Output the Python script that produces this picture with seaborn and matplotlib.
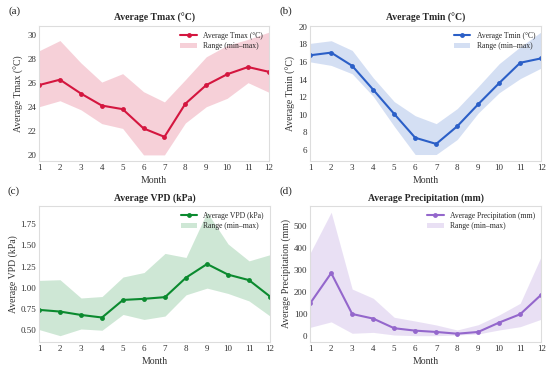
import numpy as np
import pandas as pd
import matplotlib
matplotlib.use("Agg")
import matplotlib.pyplot as plt
import seaborn as sns

months = list(range(1, 13))

tmax_mean = [25.8, 26.25, 25.1, 24.1, 23.8, 22.2, 21.5, 24.25, 25.8, 26.7, 27.3, 26.9]
tmax_hi = [28.65, 29.5, 27.65, 26.05, 26.75, 25.25, 24.4, 26.25, 28.15, 29.1, 29.6, 30.2]
tmax_lo = [24.0, 24.5, 23.75, 22.6, 22.2, 20.0, 20.0, 22.65, 24.0, 24.7, 26.0, 25.2]

tmin_mean = [16.75, 17.05, 15.55, 12.85, 10.1, 7.4, 6.7, 8.7, 11.2, 13.6, 15.9, 16.4]
tmin_hi = [18.1, 18.4, 17.3, 14.2, 11.5, 9.9, 9.0, 10.7, 13.2, 15.8, 17.7, 19.4]
tmin_lo = [16.0, 15.6, 14.65, 12.1, 8.7, 5.5, 5.5, 7.2, 10.2, 12.5, 14.1, 15.3]

vpd_mean = [0.74, 0.72, 0.68, 0.65, 0.857, 0.87, 0.89, 1.12, 1.28, 1.155, 1.09, 0.897]
vpd_hi = [1.087, 1.095, 0.88, 0.897, 1.127, 1.18, 1.405, 1.357, 1.89, 1.516, 1.317, 1.39]
vpd_lo = [0.508, 0.436, 0.515, 0.50, 0.686, 0.627, 0.667, 0.917, 0.996, 0.933, 0.845, 0.667]

prec_mean = [148, 286, 99, 78, 34, 23, 17, 9, 17, 60, 98, 187]
prec_hi = [378, 564, 213, 171, 84, 67, 49, 26, 50, 95, 148, 362]
prec_lo = [38, 63, 11, 15, 3, 0, 0, 3, 8, 26, 41, 75]

sns.set_style("white")
plt.rcParams['font.family'] = ['Liberation Serif', 'DejaVu Serif']
plt.rcParams['axes.edgecolor'] = '#dddddd'
plt.rcParams['axes.linewidth'] = 0.8

panels = [
    ("(a)", "Average Tmax (°C)", "Average Tmax (°C)", "Average Tmax (°C)",
     tmax_mean, tmax_lo, tmax_hi, "#d4163f", None),
    ("(b)", "Average Tmin (°C)", "Average Tmin (°C)", "Average Tmin (°C)",
     tmin_mean, tmin_lo, tmin_hi, "#2b5fc7", list(range(6, 21, 2))),
    ("(c)", "Average VPD (kPa)", "Average VPD (kPa)", "Average VPD (kPa)",
     vpd_mean, vpd_lo, vpd_hi, "#0b8a2f", None),
    ("(d)", "Average Precipitation (mm)", "Average Precipitation (mm)",
     "Average Precipitation (mm)", prec_mean, prec_lo, prec_hi, "#9467cc", None),
]

positions = [
    [0.071, 0.560, 0.418, 0.369],
    [0.564, 0.560, 0.420, 0.369],
    [0.071, 0.066, 0.420, 0.371],
    [0.564, 0.066, 0.420, 0.371],
]

fig = plt.figure(figsize=(5.5, 3.66), dpi=100)

for (tag, title, ylabel, lab, mean, lo, hi, col, yt), pos in zip(panels, positions):
    ax = fig.add_axes(pos)
    df = pd.DataFrame({"Month": months, "mean": mean, "lo": lo, "hi": hi})
    ax.fill_between(df["Month"], df["lo"], df["hi"], color=col, alpha=0.2,
                    linewidth=0, label="Range (min–max)")
    sns.lineplot(data=df, x="Month", y="mean", ax=ax, color=col, marker="o",
                 markersize=3.5, markeredgewidth=0, linewidth=1.5, label=lab)
    ax.set_xlim(1, 12)
    ax.set_xticks(months)
    if yt is not None:
        ax.set_yticks(yt)
        ax.set_ylim(4.76, 20.07)
    ax.tick_params(length=0, labelsize=6.5, pad=2, colors='#333333')
    ax.set_xlabel("Month", fontsize=7, labelpad=3, color='#333333')
    ax.set_ylabel(ylabel, fontsize=7, labelpad=2, color='#333333')
    ax.set_title(title, fontsize=7, fontweight="bold", pad=4)
    h, l = ax.get_legend_handles_labels()
    ax.legend(h[::-1], l[::-1], loc="upper right", frameon=False, fontsize=5.5,
              handlelength=2.2, borderaxespad=0.4, labelspacing=0.3)
    ax.text(-0.135, 1.11, tag, transform=ax.transAxes, fontsize=8, va="center")

fig.savefig("out.png", dpi=100)
